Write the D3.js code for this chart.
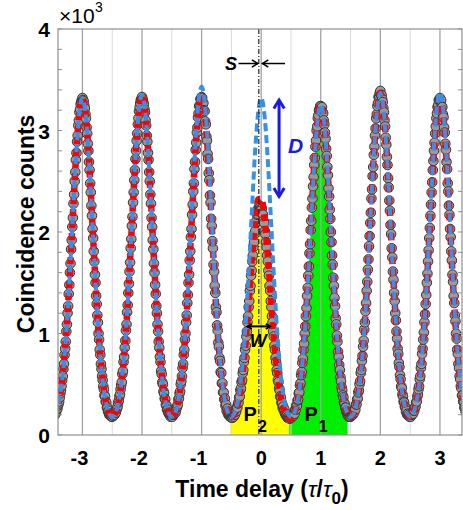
<!DOCTYPE html>
<html>
<head>
<meta charset="utf-8">
<script src="https://cdn.jsdelivr.net/npm/d3@7/dist/d3.min.js"></script>
<style>
  body { margin: 0; background: #fff; }
  svg text { font-family: "Liberation Sans", Arial, sans-serif; }
</style>
</head>
<body>
<svg id="chart" width="463" height="510"></svg>
<script>
// measured coincidence counts (x10^3), one row of 100 bins per peak, bins of 0.01 tau0 starting at center-0.5
const peakCenters = [-3, -2, -1, 0, 1, 2, 3];
const binStep = 0.01;
const countsRows = [
  [0.18,0.19,0.20,0.19,0.21,0.21,0.23,0.25,0.26,0.29,0.31,0.33,0.37,0.41,0.44,0.48,0.54,0.58,0.65,0.70,0.79,0.85,0.92,1.02,1.09,1.20,1.27,1.39,1.48,1.60,1.69,1.83,1.92,2.05,2.14,2.28,2.37,2.50,2.59,2.71,2.78,2.89,2.95,3.05,3.10,3.18,3.21,3.26,3.28,3.30,
   3.32,3.30,3.29,3.25,3.22,3.16,3.12,3.03,2.97,2.87,2.80,2.69,2.61,2.48,2.39,2.26,2.16,2.03,1.94,1.81,1.71,1.58,1.50,1.37,1.29,1.18,1.11,1.00,0.94,0.84,0.79,0.70,0.65,0.58,0.54,0.48,0.45,0.39,0.38,0.33,0.32,0.27,0.27,0.23,0.24,0.20,0.21,0.19,0.20,0.18],
  [0.18,0.20,0.19,0.21,0.20,0.22,0.22,0.25,0.26,0.28,0.32,0.34,0.38,0.40,0.45,0.49,0.52,0.60,0.63,0.72,0.77,0.86,0.93,1.03,1.09,1.21,1.28,1.40,1.49,1.61,1.70,1.84,1.93,2.06,2.15,2.29,2.39,2.51,2.61,2.72,2.80,2.90,2.97,3.06,3.12,3.19,3.23,3.27,3.30,3.31,
   3.33,3.31,3.28,3.26,3.21,3.18,3.10,3.05,2.95,2.89,2.78,2.71,2.59,2.50,2.37,2.28,2.14,2.05,1.92,1.83,1.69,1.60,1.48,1.39,1.27,1.20,1.09,1.02,0.92,0.86,0.77,0.72,0.63,0.60,0.52,0.50,0.43,0.41,0.36,0.35,0.30,0.29,0.25,0.25,0.22,0.22,0.20,0.20,0.18,0.19],
  [0.19,0.18,0.20,0.20,0.21,0.23,0.22,0.24,0.27,0.28,0.30,0.35,0.36,0.41,0.43,0.50,0.53,0.58,0.66,0.70,0.79,0.84,0.94,1.00,1.11,1.18,1.30,1.38,1.50,1.58,1.72,1.81,1.95,2.03,2.17,2.27,2.40,2.48,2.62,2.69,2.81,2.88,2.98,3.03,3.13,3.17,3.24,3.25,3.31,3.30,
   3.33,3.32,3.27,3.27,3.20,3.19,3.09,3.06,2.94,2.90,2.77,2.72,2.58,2.51,2.36,2.29,2.13,2.06,1.91,1.84,1.68,1.61,1.47,1.40,1.26,1.21,1.08,1.03,0.91,0.87,0.76,0.73,0.62,0.61,0.51,0.51,0.42,0.42,0.35,0.36,0.29,0.30,0.24,0.26,0.21,0.23,0.19,0.21,0.18,0.19],
  [0.17,0.18,0.17,0.19,0.18,0.21,0.20,0.24,0.23,0.27,0.27,0.31,0.32,0.37,0.38,0.44,0.46,0.52,0.54,0.61,0.64,0.72,0.76,0.84,0.88,0.97,1.02,1.11,1.17,1.26,1.32,1.42,1.47,1.57,1.62,1.71,1.77,1.85,1.90,1.98,2.01,2.09,2.11,2.17,2.18,2.23,2.22,2.26,2.24,2.25,
   2.23,2.23,2.18,2.17,2.11,2.09,2.01,1.98,1.90,1.85,1.77,1.71,1.62,1.57,1.47,1.42,1.32,1.26,1.17,1.11,1.02,0.97,0.88,0.84,0.76,0.72,0.64,0.61,0.54,0.52,0.46,0.44,0.38,0.37,0.32,0.31,0.27,0.28,0.24,0.25,0.21,0.21,0.19,0.19,0.17,0.18,0.17,0.17,0.16,0.17],
  [0.17,0.19,0.18,0.20,0.19,0.22,0.21,0.25,0.25,0.29,0.29,0.34,0.35,0.41,0.42,0.49,0.51,0.59,0.62,0.71,0.75,0.84,0.90,1.00,1.07,1.17,1.25,1.37,1.45,1.57,1.66,1.79,1.88,2.02,2.11,2.24,2.33,2.45,2.54,2.66,2.73,2.84,2.90,3.00,3.04,3.12,3.15,3.20,3.21,3.24,
   3.24,3.22,3.23,3.18,3.17,3.10,3.06,2.98,2.92,2.82,2.75,2.64,2.56,2.43,2.35,2.22,2.13,2.00,1.90,1.77,1.68,1.55,1.47,1.35,1.27,1.15,1.09,0.98,0.92,0.82,0.77,0.69,0.64,0.57,0.53,0.47,0.44,0.39,0.37,0.32,0.31,0.27,0.27,0.23,0.23,0.20,0.21,0.18,0.20,0.18],
  [0.18,0.20,0.19,0.21,0.20,0.22,0.22,0.25,0.25,0.30,0.30,0.35,0.36,0.42,0.44,0.50,0.53,0.61,0.64,0.73,0.78,0.87,0.93,1.04,1.11,1.22,1.30,1.42,1.51,1.63,1.73,1.86,1.96,2.09,2.19,2.33,2.42,2.55,2.64,2.76,2.84,2.95,3.02,3.12,3.16,3.24,3.27,3.33,3.34,3.37,
   3.39,3.35,3.35,3.31,3.28,3.22,3.18,3.10,3.04,2.93,2.86,2.74,2.66,2.53,2.44,2.31,2.21,2.07,1.98,1.84,1.75,1.61,1.53,1.40,1.32,1.20,1.13,1.02,0.95,0.85,0.80,0.71,0.67,0.59,0.55,0.48,0.46,0.40,0.38,0.33,0.32,0.28,0.27,0.23,0.24,0.20,0.21,0.19,0.20,0.18],
  [0.19,0.18,0.20,0.20,0.22,0.21,0.24,0.24,0.27,0.28,0.32,0.33,0.38,0.40,0.45,0.48,0.55,0.58,0.66,0.70,0.80,0.85,0.94,1.01,1.11,1.19,1.29,1.38,1.50,1.59,1.71,1.82,1.94,2.04,2.16,2.27,2.39,2.49,2.61,2.70,2.80,2.88,2.97,3.04,3.12,3.17,3.23,3.25,3.30,3.30,
   3.32,3.29,3.30,3.24,3.23,3.16,3.13,3.03,2.98,2.87,2.81,2.69,2.62,2.48,2.40,2.26,2.17,2.03,1.95,1.81,1.72,1.58,1.51,1.37,1.30,1.18,1.12,1.00,0.95,0.84,0.80,0.70,0.66,0.58,0.55,0.48,0.46,0.39,0.39,0.33,0.33,0.27,0.28,0.23,0.24,0.20,0.22,0.19,0.20,0.18]
];

// fitted curves, sampled every 0.05 tau0 from -3.40 to 3.40
const fitX0 = -3.40;
const fitStep = 0.05;
const blueFit = [
  0.31,0.49,0.78,1.19,1.71,2.28,2.81,3.18,3.32,3.18,2.81,2.28,1.71,1.19,0.78,0.49,0.31,0.21,0.18,
  0.21,0.31,0.49,0.79,1.20,1.73,2.30,2.83,3.21,3.35,3.21,2.83,2.30,1.73,1.20,0.79,0.49,0.31,0.21,0.18,
  0.21,0.31,0.50,0.80,1.23,1.77,2.36,2.90,3.29,3.43,3.29,2.90,2.36,1.77,1.23,0.80,0.50,0.31,0.21,0.18,
  0.21,0.31,0.49,0.78,1.19,1.71,2.28,2.81,3.18,3.32,3.18,2.81,2.28,1.71,1.19,0.78,0.49,0.31,0.21,0.18,
  0.21,0.30,0.48,0.76,1.17,1.68,2.24,2.75,3.12,3.25,3.12,2.75,2.24,1.68,1.17,0.76,0.48,0.30,0.21,0.18,
  0.21,0.31,0.49,0.79,1.21,1.74,2.32,2.85,3.23,3.37,3.23,2.85,2.32,1.74,1.21,0.79,0.49,0.31,0.21,0.18,
  0.21,0.31,0.49,0.79,1.21,1.74,2.32,2.85,3.23,3.37,3.23,2.85,2.32,1.74,1.21,0.79,0.49,0.31
];
const redFit = [
  0.31,0.49,0.78,1.19,1.71,2.28,2.81,3.18,3.32,3.18,2.81,2.28,1.71,1.19,0.78,0.49,0.31,0.21,0.18,
  0.21,0.31,0.49,0.79,1.20,1.73,2.30,2.83,3.21,3.35,3.21,2.83,2.30,1.73,1.20,0.79,0.49,0.31,0.21,0.18,
  0.21,0.31,0.49,0.79,1.20,1.73,2.30,2.83,3.21,3.35,3.21,2.83,2.30,1.73,1.20,0.79,0.49,0.31,0.21,0.18,
  0.20,0.29,0.44,0.68,1.00,1.39,1.78,2.11,2.32,2.33,2.17,1.86,1.47,1.07,0.74,0.48,0.31,0.22,0.17,0.16,
  0.21,0.30,0.48,0.76,1.17,1.68,2.24,2.75,3.12,3.25,3.12,2.75,2.24,1.68,1.17,0.76,0.48,0.30,0.21,0.18,
  0.21,0.31,0.49,0.79,1.21,1.74,2.32,2.85,3.23,3.37,3.23,2.85,2.32,1.74,1.21,0.79,0.49,0.31,0.21,0.18,
  0.21,0.31,0.49,0.78,1.19,1.71,2.28,2.81,3.18,3.32,3.18,2.81,2.28,1.71,1.19,0.78,0.49,0.31
];

const xTicks = [-3, -2, -1, 0, 1, 2, 3];
const xMinorGrid = [-2.5, -1.5, -0.5, 0.5, 1.5, 2.5];
const yTicks = [0, 1, 2, 3, 4];
const areaP2 = [-0.52, 0.47];
const areaP1 = [0.47, 1.45];
const peakShift = -0.04;       // dash-dot line, S
const dRange = [2.35, 3.30];   // D arrow (x10^3)
const wRange = [-0.23, 0.15];  // W arrow at level wLevel
const wLevel = 1.07;

const svg = d3.select('#chart');
const M = { l: 58, r: 462, t: 29, b: 435 };
const x = d3.scaleLinear().domain([-3.41, 3.37]).range([M.l, M.r]);
const y = d3.scaleLinear().domain([0, 4]).range([M.b, M.t]);

svg.append('defs').append('clipPath').attr('id', 'clip')
  .append('rect').attr('x', M.l).attr('y', M.t).attr('width', M.r - M.l).attr('height', M.b - M.t);

const points = countsRows.flatMap((row, r) =>
  row.map((v, j) => ({ x: peakCenters[r] - 0.5 + j * binStep, y: v })));
const redPts = redFit.map((v, i) => ({ x: fitX0 + i * fitStep, y: v }));
const bluePts = blueFit.map((v, i) => ({ x: fitX0 + i * fitStep, y: v }));

const plot = svg.append('g').attr('clip-path', 'url(#clip)');

// filled windows P2 / P1
const area = d3.area().x(d => x(d.x)).y0(y(0)).y1(d => y(d.y));
[[areaP2, '#ffff00'], [areaP1, '#00ee00']].forEach(([rg, col]) => {
  plot.append('path')
    .datum(points.filter(p => p.x >= rg[0] - 1e-9 && p.x <= rg[1] + 1e-9))
    .attr('d', area).attr('fill', col);
});

// grid
plot.selectAll('.gmin').data(xMinorGrid).join('line')
  .attr('x1', d => x(d)).attr('x2', d => x(d)).attr('y1', M.t).attr('y2', M.b)
  .attr('stroke', '#d9d9d9').attr('stroke-width', 1);
plot.selectAll('.gmaj').data(xTicks).join('line')
  .attr('x1', d => x(d)).attr('x2', d => x(d)).attr('y1', M.t).attr('y2', M.b)
  .attr('stroke', '#a3a3a3').attr('stroke-width', 1.3);

// data points
plot.append('g').selectAll('circle').data(points).join('circle')
  .attr('cx', d => x(d.x)).attr('cy', d => y(d.y)).attr('r', 4.8)
  .attr('fill', '#9a9a9a').attr('stroke', '#353535').attr('stroke-width', 1);

// fits
const line = d3.line().x(d => x(d.x)).y(d => y(d.y)).curve(d3.curveMonotoneX);
plot.append('path').datum(redPts).attr('d', line)
  .attr('fill', 'none').attr('stroke', '#ff0000').attr('stroke-width', 6.5)
  .attr('stroke-dasharray', '7,5').attr('stroke-dashoffset', -8);
plot.append('path').datum(bluePts).attr('d', line)
  .attr('fill', 'none').attr('stroke', '#3590e6').attr('stroke-width', 4)
  .attr('stroke-dasharray', '8,4');

// dash-dot line at the shifted peak
plot.append('line')
  .attr('x1', x(peakShift)).attr('x2', x(peakShift)).attr('y1', M.t).attr('y2', M.b)
  .attr('stroke', '#222').attr('stroke-width', 1.2).attr('stroke-dasharray', '5,2,1,2');

// axes box and minor ticks
const axisCol = '#8f8f8f';
svg.append('rect').attr('x', M.l).attr('y', M.t).attr('width', M.r - M.l).attr('height', M.b - M.t)
  .attr('fill', 'none').attr('stroke', axisCol).attr('stroke-width', 1.2);
const minorY = d3.range(0, 4.001, 0.2);
svg.append('g').selectAll('line').data(minorY).join('line')
  .attr('x1', M.l).attr('x2', M.l + 4).attr('y1', d => y(d)).attr('y2', d => y(d))
  .attr('stroke', axisCol);
svg.append('g').selectAll('line').data(minorY).join('line')
  .attr('x1', M.r).attr('x2', M.r - 4).attr('y1', d => y(d)).attr('y2', d => y(d))
  .attr('stroke', axisCol);

// tick labels
svg.append('g').selectAll('text').data(yTicks).join('text')
  .attr('x', 50).attr('y', d => y(d) + 8).attr('text-anchor', 'end')
  .attr('font-size', 21).attr('font-weight', 'bold').text(d => d);
svg.append('g').selectAll('text').data(xTicks).join('text')
  .attr('x', d => x(d) - (d < 0 ? 3 : 0)).attr('y', 465).attr('text-anchor', 'middle')
  .attr('font-size', 20).attr('font-weight', 'bold').text(d => d);

// exponent
svg.append('text').attr('x', 59).attr('y', 23).attr('font-size', 21).text('\u00d710');
svg.append('text').attr('x', 95).attr('y', 12).attr('font-size', 14).text('3');

// axis labels
const xl = svg.append('text').attr('x', 262).attr('y', 497).attr('text-anchor', 'middle')
  .attr('font-size', 23).attr('font-weight', 'bold');
xl.append('tspan').text('Time delay (');
xl.append('tspan').attr('font-style', 'italic').attr('font-weight', 'normal').text('\u03c4');
xl.append('tspan').text('/');
xl.append('tspan').attr('font-style', 'italic').attr('font-weight', 'normal').text('\u03c4');
xl.append('tspan').attr('font-size', 17).attr('dy', 7).text('0');
xl.append('tspan').attr('dy', -7).text(')');

svg.append('text').attr('transform', `translate(34,${y(2.08)}) rotate(-90)`)
  .attr('text-anchor', 'middle').attr('font-size', 23).attr('font-weight', 'bold')
  .text('Coincidence counts');

// annotations
function chevron(g, px, py, dir, size, col, w) {
  // dir: angle of arrow direction in degrees (0 = right)
  const a = dir * Math.PI / 180, s = 0.55;
  const p1 = [px - size * Math.cos(a - s), py - size * Math.sin(a - s)];
  const p2 = [px - size * Math.cos(a + s), py - size * Math.sin(a + s)];
  g.append('path').attr('d', `M${p1}L${px},${py}L${p2}`)
    .attr('fill', 'none').attr('stroke', col).attr('stroke-width', w)
    .attr('stroke-linejoin', 'miter');
}
const ann = svg.append('g');

// S
const sy = y(3.66);
ann.append('line').attr('x1', x(-0.38)).attr('x2', x(peakShift) - 1).attr('y1', sy).attr('y2', sy)
  .attr('stroke', '#000').attr('stroke-width', 1.5);
chevron(ann, x(peakShift) - 1, sy, 0, 7, '#000', 1.5);
ann.append('line').attr('x1', x(0.40)).attr('x2', x(0.02)).attr('y1', sy).attr('y2', sy)
  .attr('stroke', '#000').attr('stroke-width', 1.5);
chevron(ann, x(0.02), sy, 180, 7, '#000', 1.5);
ann.append('text').attr('x', x(-0.39) - 1).attr('y', sy + 6).attr('text-anchor', 'end')
  .attr('font-size', 18).attr('font-style', 'italic').attr('font-weight', 'bold').text('S');

// D
const dx = x(0.30), blue = '#1a1ae6';
ann.append('line').attr('x1', dx).attr('x2', dx).attr('y1', y(dRange[1])).attr('y2', y(dRange[0]))
  .attr('stroke', blue).attr('stroke-width', 3);
chevron(ann, dx, y(dRange[1]), -90, 10, blue, 3);
chevron(ann, dx, y(dRange[0]), 90, 10, blue, 3);
ann.append('text').attr('x', dx + 9).attr('y', y(2.86) + 8)
  .attr('font-size', 21).attr('font-style', 'italic').attr('font-weight', 'bold')
  .attr('fill', blue).text('D');

// W
const wy = y(wLevel);
ann.append('line').attr('x1', x(wRange[0])).attr('x2', x(wRange[1])).attr('y1', wy).attr('y2', wy)
  .attr('stroke', '#000').attr('stroke-width', 2);
chevron(ann, x(wRange[0]), wy, 180, 5, '#000', 2);
chevron(ann, x(wRange[1]), wy, 0, 5, '#000', 2);
ann.append('text').attr('x', x(-0.05)).attr('y', wy + 21).attr('text-anchor', 'middle')
  .attr('font-size', 18).attr('font-style', 'italic').attr('font-weight', 'bold').text('W');

// P2 / P1
[[-0.1, '2'], [0.92, '1']].forEach(([px, sub]) => {
  const t = ann.append('text').attr('x', x(px)).attr('y', 421).attr('text-anchor', 'middle')
    .attr('font-size', 20).attr('font-weight', 'bold');
  t.append('tspan').text('P');
  t.append('tspan').attr('font-size', 16).attr('dy', 11).attr('dx', 1).text(sub);
});
</script>
</body>
</html>
